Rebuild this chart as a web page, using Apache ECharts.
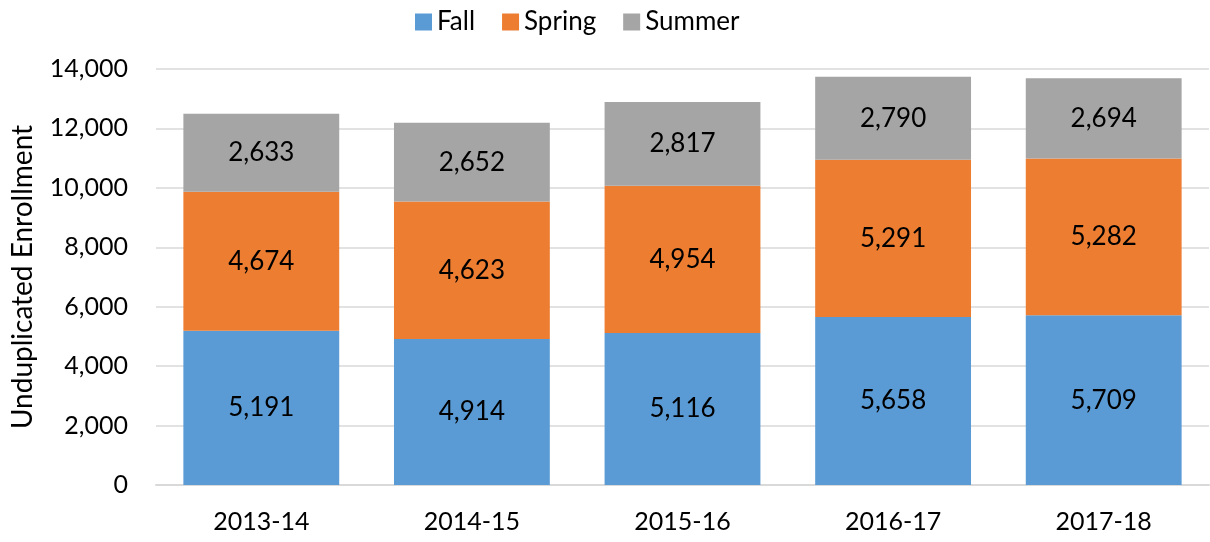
<!DOCTYPE html>
<html>
<head>
<meta charset="utf-8">
<script src="https://cdn.jsdelivr.net/npm/echarts@6/dist/echarts.min.js"></script>
<style>
  html, body { margin: 0; padding: 0; background: #fff; }
  #main { width: 1210px; height: 542px; }
</style>
</head>
<body>
<div id="main"></div>
<script>
// academic years
var years = ['2013-14', '2014-15', '2015-16', '2016-17', '2017-18'];
// enrollment by term
var fall = [5191, 4914, 5116, 5658, 5709];
var spring = [4674, 4623, 4954, 5291, 5282];
var summer = [2633, 2652, 2817, 2790, 2694];

var font = 'Lato, "Open Sans", sans-serif';

function fmt(v) {
    return v.toLocaleString('en-US');
}

var myChart = echarts.init(document.getElementById('main'));

function bar(name, data, color) {
    return {
        name: name,
        type: 'bar',
        stack: 'total',
        data: data,
        barWidth: '74%',
        itemStyle: { color: color },
        label: {
            show: true,
            position: 'inside',
            color: '#000',
            fontFamily: font,
            fontSize: 26,
            formatter: function (p) { return fmt(p.value); }
        },
        emphasis: { disabled: true }
    };
}

myChart.setOption({
    animation: false,
    textStyle: { fontFamily: font },
    legend: {
        top: 4,
        left: 410,
        icon: 'rect',
        itemWidth: 17,
        itemHeight: 17,
        itemGap: 27,
        textStyle: { fontFamily: font, fontSize: 26, color: '#000' },
        data: ['Fall', 'Spring', 'Summer']
    },
    grid: { left: 156, right: 1, top: 69, bottom: 57, outerBoundsMode: 'none' },
    xAxis: {
        type: 'category',
        data: years,
        axisTick: { show: false },
        axisLine: { lineStyle: { color: '#D9D9D9', width: 2 } },
        axisLabel: { color: '#000', fontSize: 25, fontFamily: font, margin: 24 }
    },
    yAxis: {
        type: 'value',
        min: 0,
        max: 14000,
        interval: 2000,
        name: 'Unduplicated Enrollment',
        nameLocation: 'middle',
        nameGap: 119,
        nameTextStyle: { color: '#000', fontSize: 28, fontFamily: font },
        axisLabel: {
            color: '#000',
            fontSize: 25,
            fontFamily: font,
            margin: 28,
            formatter: function (v) { return fmt(v); }
        },
        splitLine: { lineStyle: { color: '#D9D9D9', width: 1.5 } }
    },
    series: [
        bar('Fall', fall, '#5B9BD5'),
        bar('Spring', spring, '#ED7D31'),
        bar('Summer', summer, '#A5A5A5')
    ]
});
</script>
</body>
</html>
